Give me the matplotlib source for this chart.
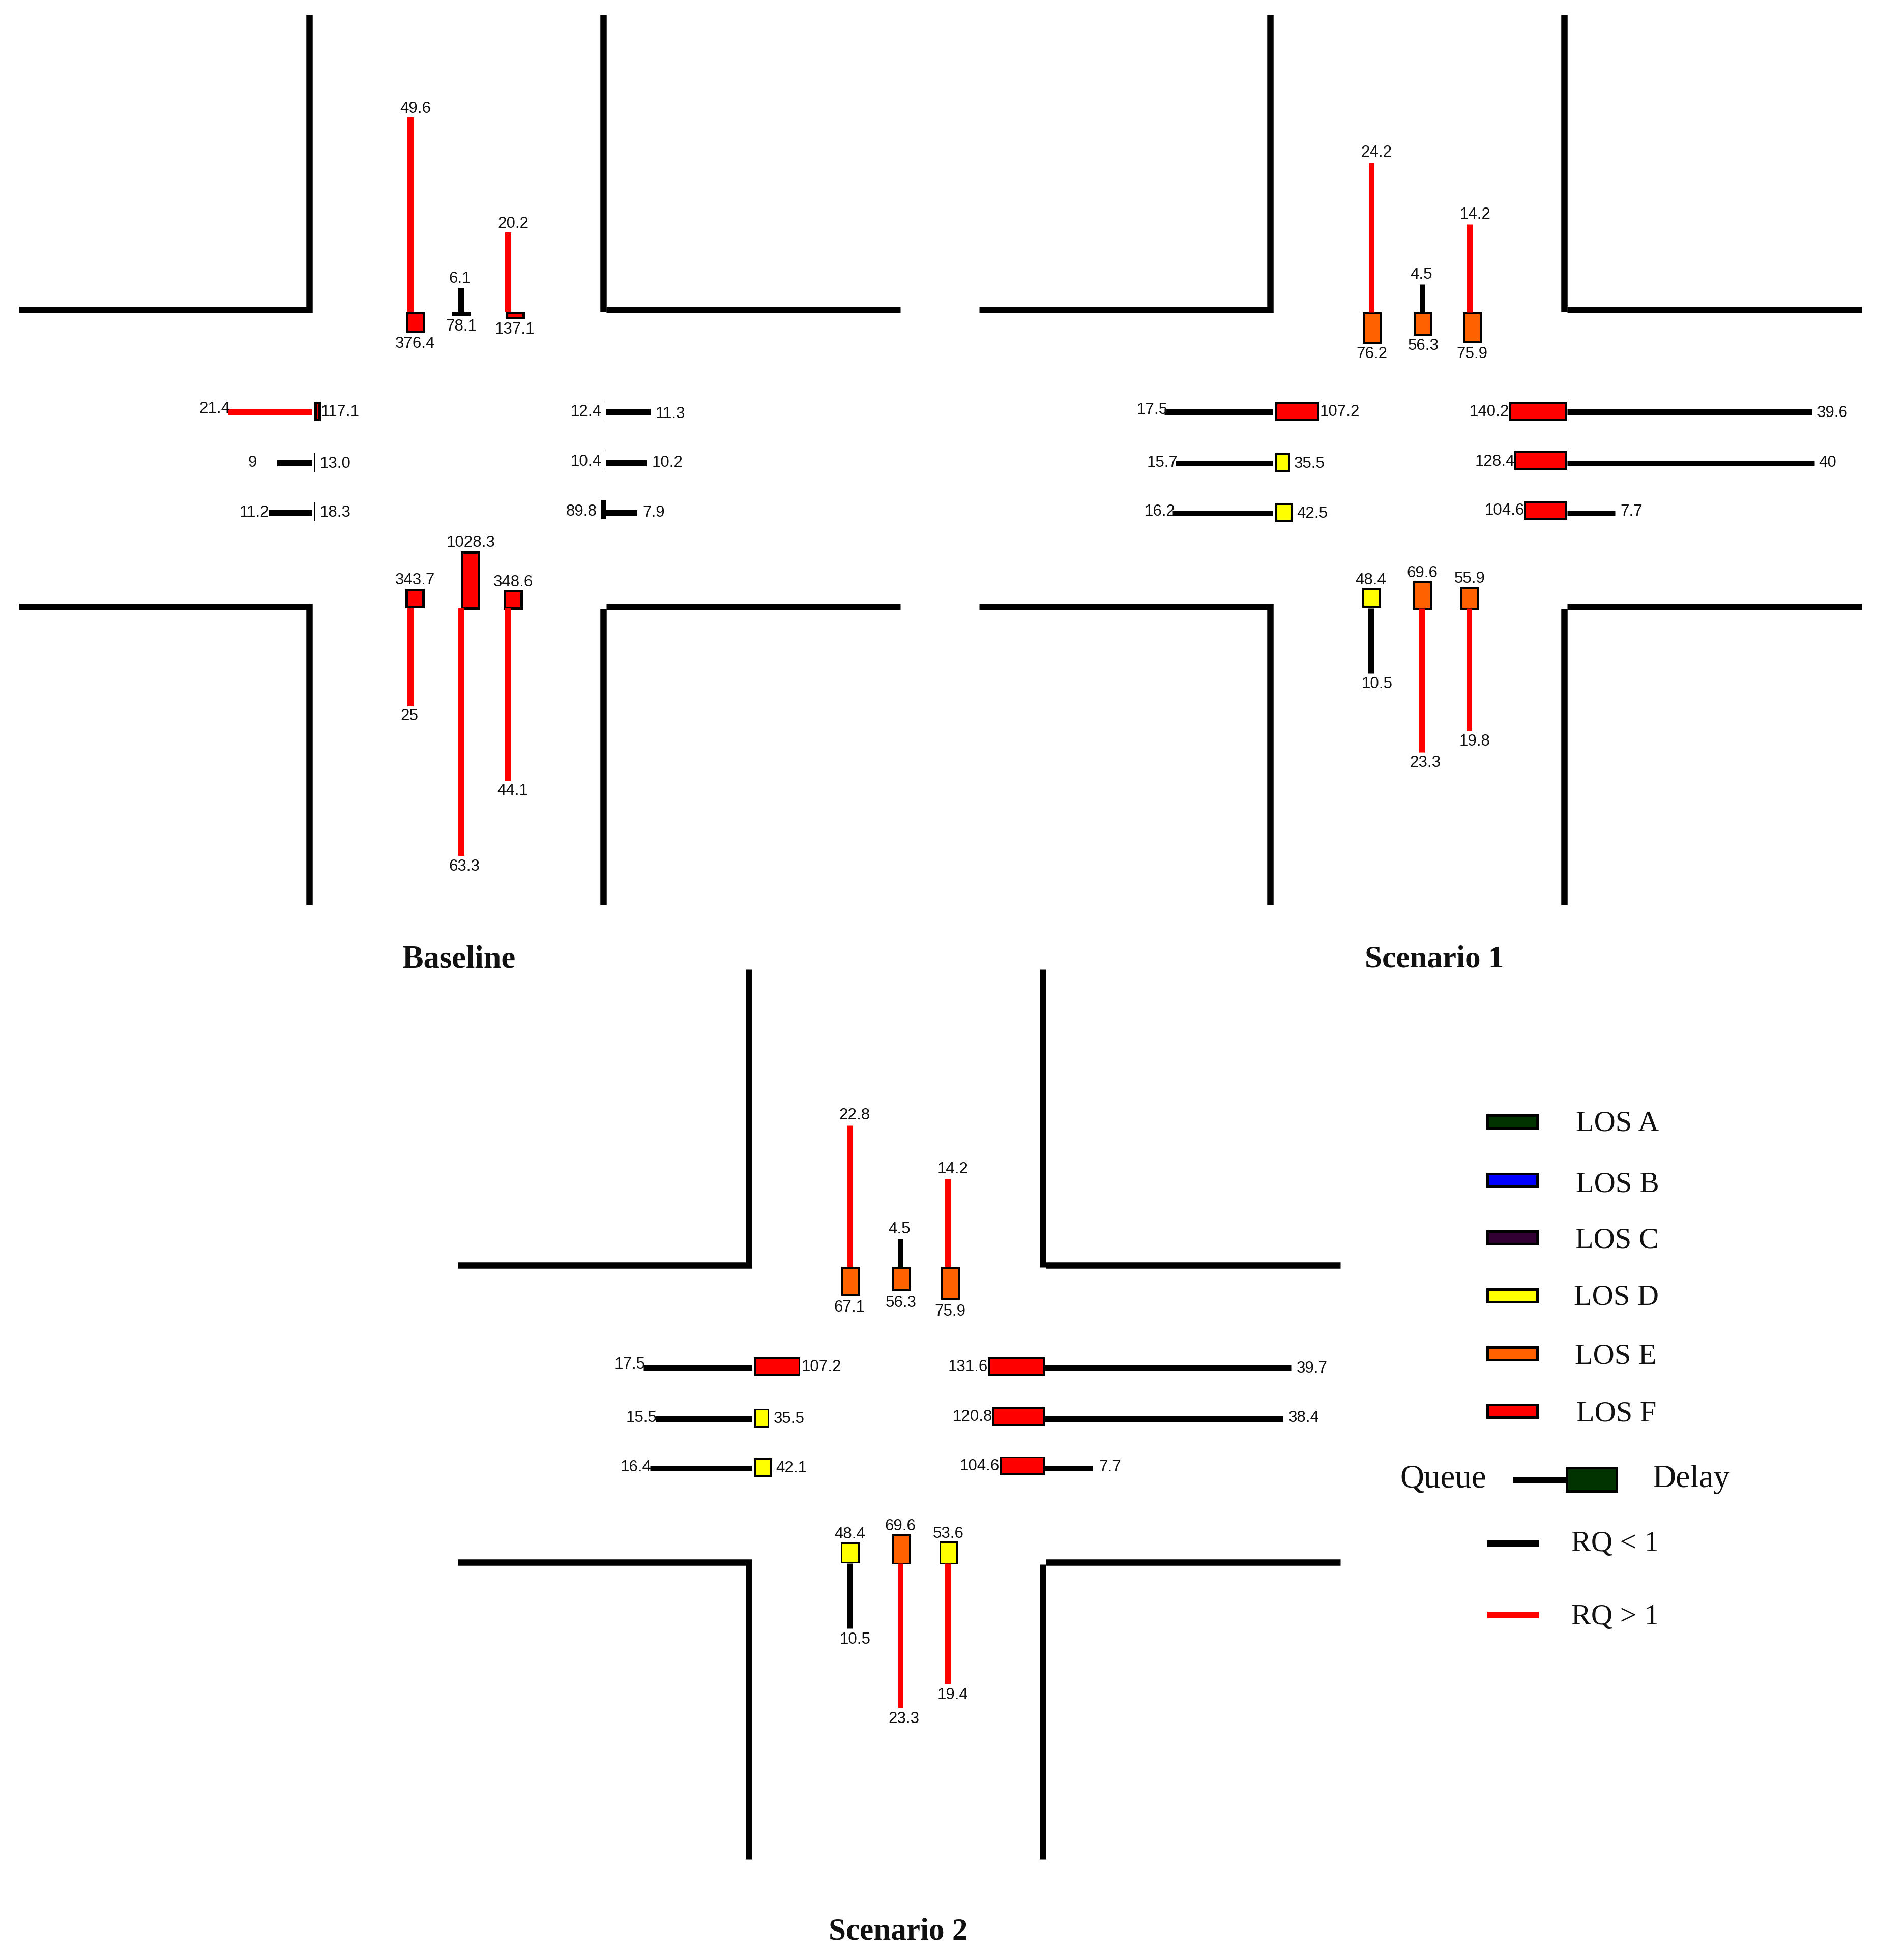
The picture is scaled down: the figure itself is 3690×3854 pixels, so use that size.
import matplotlib
matplotlib.use("Agg")
import matplotlib.pyplot as plt
from matplotlib.patches import Rectangle

W, H = 3690, 3855
PX = 0.72  # one pixel in points at dpi 100

# order of the 12 movements: north 1-3, south 1-3, west 1-3, east 1-3
base_queue = [49.6, 6.1, 20.2, 25, 63.3, 44.1, 21.4, 9, 11.2, 11.3, 10.2, 7.9]
base_delay = [376.4, 78.1, 137.1, 343.7, 1028.3, 348.6, 117.1, 13.0, 18.3, 12.4, 10.4, 89.8]
base_los = list("FEFFFFFBBBBF")
base_rq = [1, 0, 1, 1, 1, 1, 1, 0, 0, 0, 0, 0]

sc1_queue = [24.2, 4.5, 14.2, 10.5, 23.3, 19.8, 17.5, 15.7, 16.2, 39.6, 40, 7.7]
sc1_delay = [76.2, 56.3, 75.9, 48.4, 69.6, 55.9, 107.2, 35.5, 42.5, 140.2, 128.4, 104.6]
sc1_los = list("EEEDEEFDDFFF")
sc1_rq = [1, 0, 1, 0, 1, 1, 0, 0, 0, 0, 0, 0]

sc2_queue = [22.8, 4.5, 14.2, 10.5, 23.3, 19.4, 17.5, 15.5, 16.4, 39.7, 38.4, 7.7]
sc2_delay = [67.1, 56.3, 75.9, 48.4, 69.6, 53.6, 107.2, 35.5, 42.1, 131.6, 120.8, 104.6]
sc2_los = list("EEEDEDFDDFFF")
sc2_rq = [1, 0, 1, 0, 1, 1, 0, 0, 0, 0, 0, 0]

los_names = ["A", "B", "C", "D", "E", "F"]
los_colors = ["#003300", "#0000ff", "#330033", "#ffff00", "#ff6000", "#ff0000"]
los_color = dict(zip(los_names, los_colors))

# layout, full size pixels
base_qpos = [807, 907, 999, 807, 907, 998, 811, 912, 1010, 811, 912, 1010]
base_bpos = [817, 907, 1013, 816, 925, 1009, 810, 910, 1007, 808, 905, 1003]
base_bstop = [614, 614, 614, 1197, 1200, 1200, 618, 618, 618, 1192, 1192, 1192]
base_qstop = [614, 1197, 614, 1192]
base_qlab = [(817, 211), (904, 545), (1009, 437), (805, 1406), (913, 1702), (1008, 1553),
             (422, 802), (496, 907), (500, 1005), (1318, 811), (1312, 908), (1285, 1005)]
base_dlab = [(816, 674), (907, 640), (1012, 646), (816, 1139), (926, 1065), (1009, 1143),
             (669, 808), (659, 909), (659, 1006), (1152, 808), (1152, 906), (1143, 1003)]

sc1_qpos = [2696, 2796, 2889, 2695, 2795, 2888, 811, 912, 1010, 811, 912, 1010]
sc1_bpos = [2697, 2797, 2894, 2696, 2796, 2889, 810, 910, 1008, 810, 906, 1004]
sc1_bstop = [615, 615, 615, 1196, 1200, 1200, 2507, 2507, 2507, 3081, 3081, 3081]
sc1_qstop = [615, 1197, 2502, 3081]
sc1_qlab = [(2706, 298), (2794, 537), (2900, 419), (2707, 1343), (2802, 1498), (2899, 1456),
            (2265, 803), (2285, 908), (2280, 1004), (3602, 810), (3593, 907), (3207, 1004)]
sc1_dlab = [(2697, 694), (2798, 678), (2894, 694), (2695, 1139), (2796, 1125), (2889, 1136),
            (2634, 808), (2574, 909), (2580, 1007), (2928, 808), (2939, 905), (2958, 1002)]

sc2_qpos = [1671, 1770, 1863, 1671, 1770, 1863, 2690, 2791, 2888, 2690, 2791, 2888]
sc2_bpos = [1672, 1772, 1868, 1671, 1772, 1865, 2688, 2789, 2886, 2688, 2786, 2883]
sc2_bstop = [2492, 2492, 2492, 3075, 3077, 3077, 1482, 1482, 1482, 2054, 2054, 2054]
sc2_qstop = [2492, 3075, 1478, 2054]
sc2_qlab = [(1680, 2191), (1768, 2415), (1873, 2297), (1681, 3222), (1777, 3378), (1873, 3331),
            (1238, 2681), (1261, 2786), (1250, 2883), (2579, 2689), (2563, 2786), (2182, 2883)]
sc2_dlab = [(1670, 2569), (1771, 2560), (1868, 2577), (1671, 3015), (1770, 2999), (1864, 3014),
            (1615, 2686), (1551, 2788), (1556, 2885), (1903, 2686), (1912, 2784), (1926, 2881)]

SANS_DY = 2.5
SERIF_DY = 4

fig = plt.figure(figsize=(W / 100, H / 100), dpi=100)
ax = fig.add_axes([0, 0, 1, 1])
ax.set_xlim(0, W)
ax.set_ylim(H, 0)
ax.axis("off")


def draw_roads(vl, vr, ht, hb, x0, x1, y0, y1):
    kw = dict(color="black", lw=12.5 * PX, solid_capstyle="butt", solid_joinstyle="miter")
    ax.plot([x0, vl, vl], [ht, ht, y0], **kw)
    ax.plot([x0, vl, vl], [hb, hb, y1], **kw)
    ax.plot([vr, vr], [y0, ht + 4], **kw)
    ax.plot([vr + 6, x1], [ht, ht], **kw)
    ax.plot([vr, vr], [hb + 4, y1], **kw)
    ax.plot([vr + 6, x1], [hb, hb], **kw)


def box(x, y, w, h, color, edge):
    # black box, fill inset by the edge, so very low delays stay thin black bars
    ax.add_patch(Rectangle((x, y), w, h, fc="black", ec="none"))
    if w > 2 * edge and h > 2 * edge:
        ax.add_patch(Rectangle((x + edge, y + edge), w - 2 * edge, h - 2 * edge, fc=color, ec="none"))


def serif_text(x, y, s, size=42, weight="normal"):
    ax.text(x, y + SERIF_DY, s, ha="center", va="center", fontsize=size, fontweight=weight,
            family="Liberation Serif", color="#111111")


def draw_panel(queue, delay, los, rq, qpos, bpos, bstop, qstop, qlab, dlab, qscale, dscale, thick, edge, qwidth):
    for i in range(12):
        c = "#ff0000" if rq[i] else "black"
        q = queue[i] * qscale
        d = delay[i] * dscale
        col = los_color[los[i]]
        kw = dict(color=c, lw=qwidth * PX, solid_capstyle="butt")
        if i < 3:
            ax.plot([qpos[i], qpos[i]], [qstop[0], qstop[0] - q], **kw)
            box(bpos[i] - thick / 2, bstop[i], thick, d, col, edge)
        elif i < 6:
            ax.plot([qpos[i], qpos[i]], [qstop[1], qstop[1] + q], **kw)
            box(bpos[i] - thick / 2, bstop[i] - d, thick, d, col, edge)
        elif i < 9:
            ax.plot([qstop[2], qstop[2] - q], [qpos[i], qpos[i]], **kw)
            box(bstop[i], bpos[i] - thick / 2, d, thick, col, edge)
        else:
            ax.plot([qstop[3], qstop[3] + q], [qpos[i], qpos[i]], **kw)
            box(bstop[i] - d, bpos[i] - thick / 2, d, thick, col, edge)
        ax.text(qlab[i][0], qlab[i][1] + SANS_DY, str(queue[i]), ha="center", va="center", fontsize=22.5,
                family="Liberation Sans", color="#111111")
        ax.text(dlab[i][0], dlab[i][1] + SANS_DY, str(delay[i]), ha="center", va="center", fontsize=22.5,
                family="Liberation Sans", color="#111111")


draw_roads(608, 1186, 610, 1194, 37, 1770, 30, 1780)
draw_panel(base_queue, base_delay, base_los, base_rq, base_qpos, base_bpos, base_bstop, base_qstop,
           base_qlab, base_dlab, 7.7, 0.112, 38, 5, 12)

draw_roads(2497, 3075, 610, 1194, 1925, 3660, 30, 1780)
draw_panel(sc1_queue, sc1_delay, sc1_los, sc1_rq, sc1_qpos, sc1_bpos, sc1_bstop, sc1_qstop,
           sc1_qlab, sc1_dlab, 12.15, 0.81, 37, 4, 11)

draw_roads(1472, 2050, 2489, 3073, 900, 2635, 1907, 3657)
draw_panel(sc2_queue, sc2_delay, sc2_los, sc2_rq, sc2_qpos, sc2_bpos, sc2_bstop, sc2_qstop,
           sc2_qlab, sc2_dlab, 12.2, 0.85, 37, 3.5, 11)

# panel titles
serif_text(902, 1884, "Baseline", 45, "bold")
serif_text(2820, 1883, "Scenario 1", 44, "bold")
serif_text(1766, 3795, "Scenario 2", 44, "bold")

# legend
legend_y = [2207, 2322, 2435, 2549, 2663, 2776]
legend_text_y = [2206, 2326, 2436, 2548, 2664, 2777]
legend_text_x = [3180, 3180, 3179, 3177, 3176, 3178]
for i, n in enumerate(los_names):
    box(2922, legend_y[i] - 15, 103, 30, los_colors[i], 5)
    serif_text(legend_text_x[i], legend_text_y[i], "LOS " + n)

ax.plot([2974, 3080], [2911, 2911], color="black", lw=13 * PX, solid_capstyle="butt")
box(3078, 2885, 103, 51, los_colors[0], 5)
serif_text(2837, 2905, "Queue", 47)
serif_text(3324, 2905, "Delay", 46)

ax.plot([2923, 3025], [3036, 3036], color="black", lw=13 * PX, solid_capstyle="butt")
ax.plot([2923, 3025], [3176, 3176], color="#ff0000", lw=13 * PX, solid_capstyle="butt")
serif_text(3175, 3032, "RQ < 1")
serif_text(3175, 3176, "RQ > 1")

fig.savefig("out.png", dpi=100, facecolor="white")
